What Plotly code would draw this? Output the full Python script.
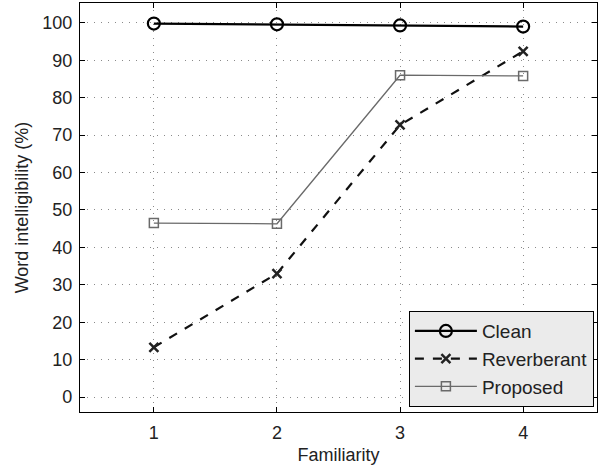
import plotly.graph_objects as go

familiarity = [1, 2, 3, 4]
clean = [99.8, 99.6, 99.3, 99.0]
reverberant = [13.3, 33.0, 72.7, 92.4]
proposed = [46.5, 46.3, 86.0, 85.8]
y_ticks = [0, 10, 20, 30, 40, 50, 60, 70, 80, 90, 100]

FONT = "Liberation Sans, Arial, sans-serif"

fig = go.Figure()
fig.add_trace(go.Scatter(
    x=familiarity, y=clean, name="Clean", mode="lines+markers",
    line=dict(color="black", width=2.2),
    marker=dict(symbol="circle-open", size=12, color="black", line=dict(width=2.2)),
))
fig.add_trace(go.Scatter(
    x=familiarity, y=reverberant, name="Reverberant", mode="lines+markers",
    line=dict(color="#111", width=2.2, dash="dash"),
    marker=dict(symbol="x-thin-open", size=9, color="#222", line=dict(width=2.5, color="#222")),
))
fig.add_trace(go.Scatter(
    x=familiarity, y=proposed, name="Proposed", mode="lines+markers",
    line=dict(color="#6a6a6a", width=1.3),
    marker=dict(symbol="square-open", size=9, color="#6a6a6a", line=dict(width=1.5)),
))

axis_common = dict(
    showline=True, linecolor="black", linewidth=1.2, mirror="ticks",
    ticks="inside", ticklen=5, tickcolor="black",
    showgrid=True, gridcolor="#8a8a8a", griddash="1px,6px", gridwidth=1,
    zeroline=False, tickfont=dict(family=FONT, size=18, color="#222"),
)

fig.update_layout(
    width=600, height=466,
    margin=dict(l=80, r=3, t=3, b=54),
    paper_bgcolor="white", plot_bgcolor="white",
    font=dict(family=FONT, color="#222"),
    showlegend=True,
    legend=dict(
        x=0.994, y=0.012, xanchor="right", yanchor="bottom",
        bgcolor="#ebebeb", bordercolor="black", borderwidth=1,
        font=dict(family=FONT, size=19, color="#222"),
        tracegroupgap=0, itemwidth=62,
    ),
    xaxis=dict(
        range=[0.4, 4.6], tickvals=familiarity,
        title=dict(text="Familiarity", font=dict(family=FONT, size=18), standoff=6),
        ticklabelstandoff=4,
        **axis_common,
    ),
    yaxis=dict(
        range=[-4, 105.3], tickvals=y_ticks,
        title=dict(text="Word intelligibility (%)", font=dict(family=FONT, size=18), standoff=8),
        ticklabelstandoff=3,
        **axis_common,
    ),
)

fig.write_html("out.html", config={"displayModeBar": False})

with open("out.html", "r", encoding="utf-8") as f:
    html = f.read()
html = html.replace("<body>", '<body style="margin:0;padding:0;">', 1)
with open("out.html", "w", encoding="utf-8") as f:
    f.write(html)
